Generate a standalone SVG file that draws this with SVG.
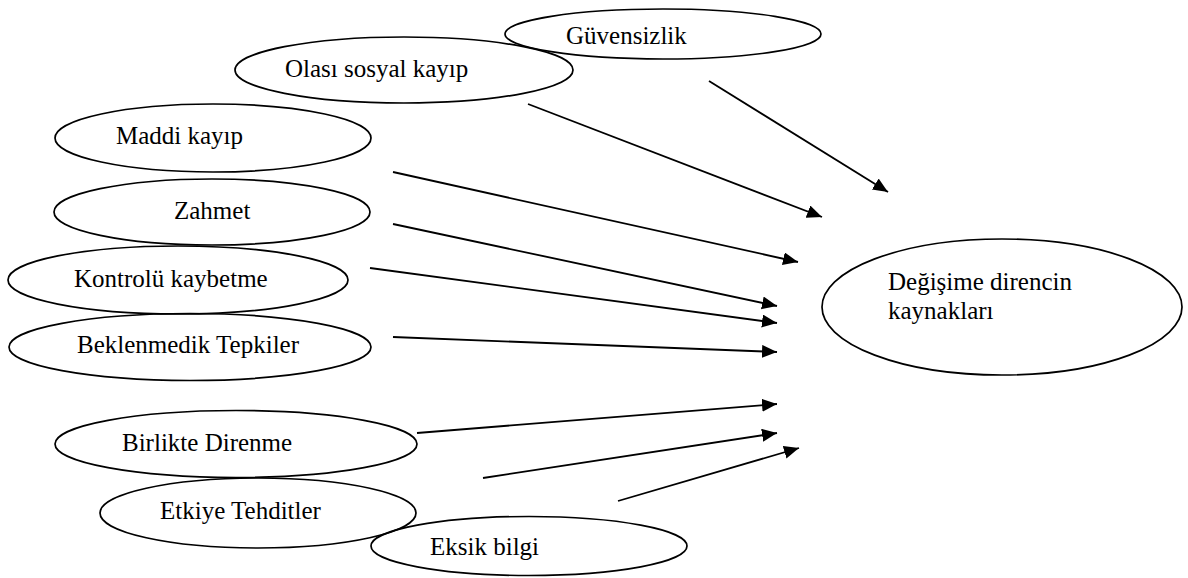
<svg xmlns="http://www.w3.org/2000/svg" width="1188" height="578" viewBox="0 0 1188 578">
  <style>
    .node ellipse { fill: none; stroke: #000; stroke-width: 1.7; }
    .node text { font-family: 'Liberation Serif', 'Times New Roman', serif; font-size: 25px; fill: #000; }
    .edges line { stroke: #000; stroke-width: 1.8; marker-end: url(#arrow); }
  </style>
  <defs>
    <marker id="arrow" markerUnits="userSpaceOnUse" markerWidth="16" markerHeight="14" refX="15" refY="6.5" orient="auto">
      <path d="M0,0 L15,6.5 L0,13 Z" fill="#000"/>
    </marker>
  </defs>
  <rect width="1188" height="578" fill="#fff"/>

  <!-- connectors: every source points at the target ellipse -->
  <g id="edges" class="edges">
    <line x1="709" y1="81" x2="888" y2="192"/>
    <line x1="528" y1="104" x2="822" y2="217"/>
    <line x1="393" y1="172" x2="798" y2="262"/>
    <line x1="393" y1="224" x2="777" y2="306"/>
    <line x1="370" y1="268" x2="777" y2="323"/>
    <line x1="393" y1="337" x2="777" y2="352"/>
    <line x1="417" y1="433" x2="777" y2="404"/>
    <line x1="483" y1="478" x2="777" y2="433"/>
    <line x1="618" y1="501" x2="799" y2="448"/>
  </g>

  <!-- source nodes -->
  <g id="guvensizlik" class="node">
    <ellipse cx="663" cy="34" rx="158" ry="25"/>
    <text x="566" y="44">Güvensizlik</text>
  </g>
  <g id="olasi-sosyal-kayip" class="node">
    <ellipse cx="404" cy="70" rx="169" ry="33"/>
    <text x="285" y="77">Olası sosyal kayıp</text>
  </g>
  <g id="maddi-kayip" class="node">
    <ellipse cx="213" cy="138" rx="158" ry="34"/>
    <text x="116" y="144">Maddi kayıp</text>
  </g>
  <g id="zahmet" class="node">
    <ellipse cx="212" cy="212" rx="158" ry="33"/>
    <text x="174" y="219">Zahmet</text>
  </g>
  <g id="kontrolu-kaybetme" class="node">
    <ellipse cx="178" cy="280" rx="170" ry="34"/>
    <text x="74" y="287">Kontrolü kaybetme</text>
  </g>
  <g id="beklenmedik-tepkiler" class="node">
    <ellipse cx="190" cy="347" rx="181" ry="33.5"/>
    <text x="77" y="353">Beklenmedik Tepkiler</text>
  </g>
  <g id="birlikte-direnme" class="node">
    <ellipse cx="236" cy="444" rx="181" ry="33.5"/>
    <text x="122" y="451">Birlikte Direnme</text>
  </g>
  <g id="etkiye-tehditler" class="node">
    <ellipse cx="258" cy="513" rx="158" ry="35"/>
    <text x="160" y="519">Etkiye Tehditler</text>
  </g>
  <g id="eksik-bilgi" class="node">
    <ellipse cx="529" cy="546" rx="158" ry="29.5"/>
    <text x="430" y="555">Eksik bilgi</text>
  </g>

  <!-- target node -->
  <g id="degisime-direncin-kaynaklari" class="node">
    <ellipse cx="1002" cy="307" rx="180" ry="68"/>
    <text x="888" y="290">Değişime direncin</text>
    <text x="888" y="319">kaynakları</text>
  </g>
</svg>
